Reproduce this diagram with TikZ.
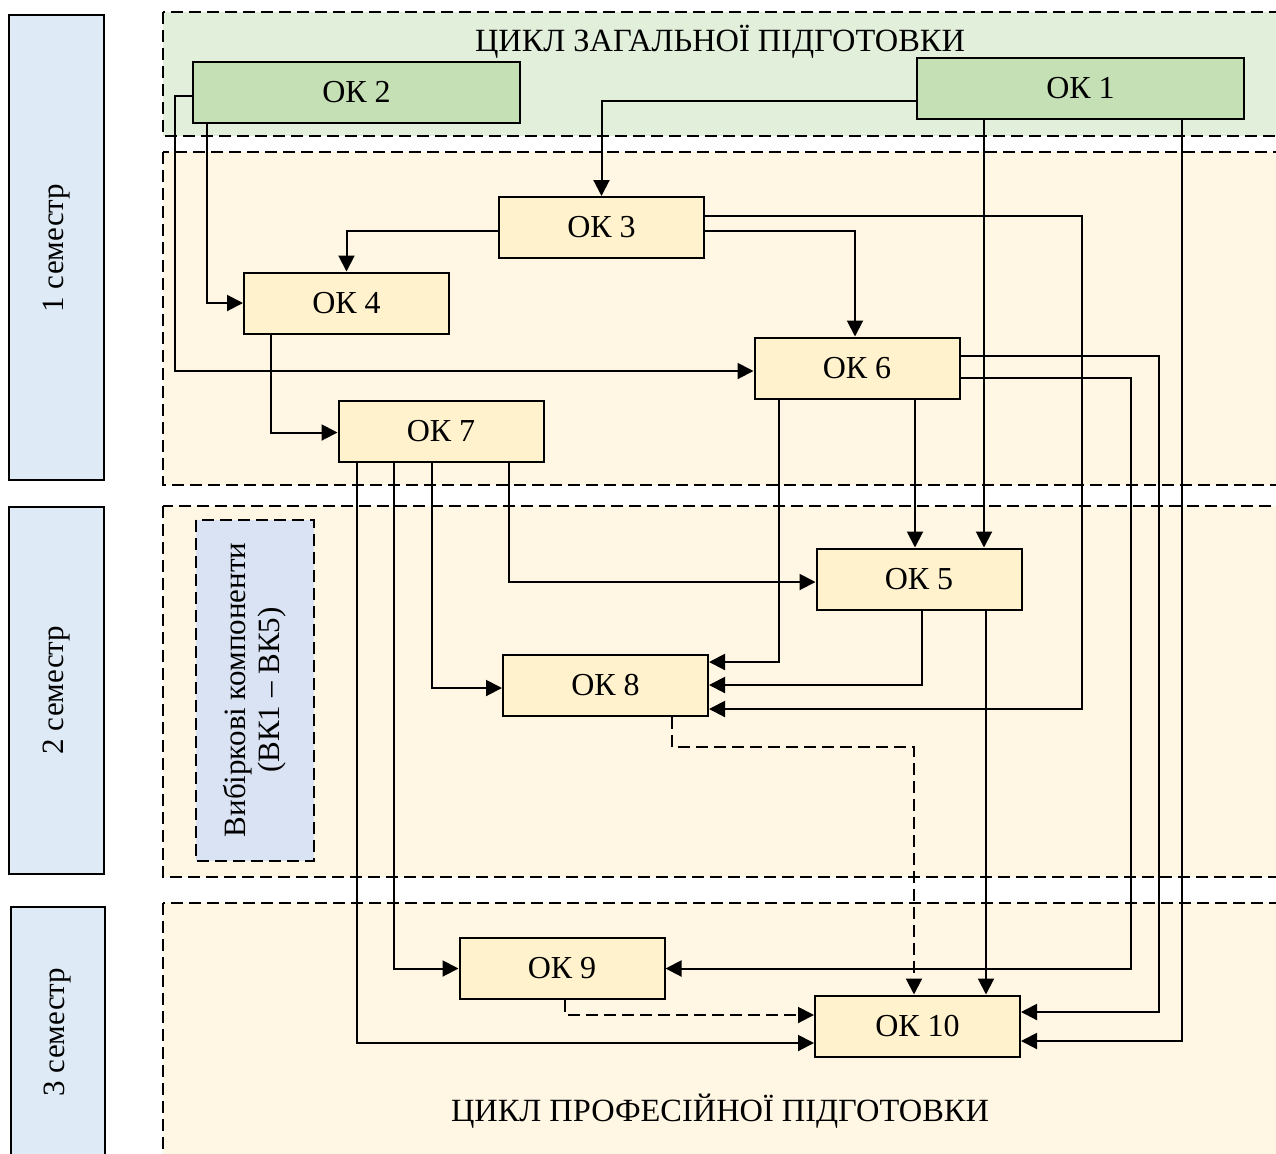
\documentclass[tikz,border=0pt]{standalone}
\usepackage{fontspec}
\setmainfont{Liberation Serif}
\usepackage{xcolor}
\usepackage{tikz}
\usetikzlibrary{positioning,calc,arrows.meta}

\definecolor{zonegreen}{HTML}{E2EFDA}
\definecolor{okgreen}{HTML}{C5E0B4}
\definecolor{zonecream}{HTML}{FFF7E3}
\definecolor{okcream}{HTML}{FFF2CC}
\definecolor{semblue}{HTML}{DEEBF7}
\definecolor{vkblue}{HTML}{DAE3F3}

\begin{document}
\begin{tikzpicture}[x=0.5pt, y=-0.5pt,
    every node/.style={font=\fontsize{15.5}{17}\selectfont},
    ok/.style={rectangle, draw, line width=1pt, fill=okcream, minimum width=102.5pt, minimum height=30.5pt, inner sep=0pt, font=\fontsize{16}{18}\selectfont},
    okwide/.style={ok, fill=okgreen, minimum width=163.5pt},
    title/.style={font=\fontsize{16.2}{18}\selectfont},
    zone/.style={draw, dash pattern=on 6pt off 3pt, line width=0.8pt},
    sembox/.style={draw, line width=1.2pt, fill=semblue},
    arr/.style={-{Triangle[length=8pt,width=8pt]}, line width=1pt},
    darr/.style={arr, dash pattern=on 6pt off 3pt}]
    \useasboundingbox (0,0) rectangle (1276,1153);

    % zones
    \draw[zone, fill=zonegreen] (163,12) rectangle (1300,136);
    \draw[zone, fill=zonecream] (163,152) rectangle (1300,485);
    \draw[zone, fill=zonecream] (163,506) rectangle (1300,877);
    \draw[zone, fill=zonecream] (163,903) rectangle (1300,1180);
    \draw[zone, fill=vkblue] (196,520) rectangle (314,861);

    % semesters
    \draw[sembox] (9,15) rectangle (104,480);
    \draw[sembox] (9,507) rectangle (104,874);
    \draw[sembox] (11,907) rectangle (105,1175);
    \node[rotate=90] (sem1) at (56.5,248) {1 семестр};
    \node[rotate=90] (sem2) at (56.5,690) {2 семестр};
    \node[rotate=90] (sem3) at (58,1032) {3 семестр};

    \node[title] (gen) at (720,42) {ЦИКЛ ЗАГАЛЬНОЇ ПІДГОТОВКИ};
    \node[title] (prof) at (720,1111) {ЦИКЛ ПРОФЕСІЙНОЇ ПІДГОТОВКИ};
    \node[rotate=90, align=center] (vk) at (255,690) {Вибіркові компоненти\\(ВК1 – ВК5)};

    \node[okwide] (ok1) at (1080.5,88.5) {ОК 1};
    \node[okwide] (ok2) at (356.5,92.5) {ОК 2};
    \node[ok] (ok3) at (601.5,227.5) {ОК 3};
    \node[ok] (ok4) at (346.5,303) {ОК 4};
    \node[ok] (ok6) at (857,368) {ОК 6};
    \node[ok] (ok7) at (441,431.5) {ОК 7};
    \node[ok] (ok5) at (919,579) {ОК 5};
    \node[ok] (ok8) at (605.5,685) {ОК 8};
    \node[ok] (ok9) at (562,968.5) {ОК 9};
    \node[ok] (ok10) at (917.5,1026) {ОК 10};

    \draw[arr] ($(ok1.west)+(0,12)$) -| (ok3.north);
    \draw[arr] ($(ok1.south)+(-96.5,0)$) -- ($(ok5.north)+(65,0)$);
    \draw[arr] ($(ok1.south)+(101.5,0)$) |- ($(ok10.east)+(0,15)$);
    \draw[arr] ($(ok2.south west)+(15,0)$) |- (ok4.west);
    \draw[arr] ($(ok2.west)+(0,3)$) -- ++(-17,0) |- ($(ok6.west)+(0,3)$);
    \draw[arr] ($(ok3.west)+(0,3)$) -| (ok4.north);
    \draw[arr] ($(ok3.east)+(0,3)$) -| ($(ok6.north)+(-2,0)$);
    \draw[arr] ($(ok3.east)+(0,-12)$) -- ++(377,0) |- ($(ok8.east)+(0,24)$);
    \draw[arr] ($(ok4.south west)+(28,0)$) |- ($(ok7.west)+(0,1)$);
    \draw[arr] ($(ok6.south west)+(25,0)$) |- ($(ok8.east)+(0,-23)$);
    \draw[arr] ($(ok6.south)+(58,0)$) -- ($(ok5.north)+(-4,0)$);
    \draw[arr] ($(ok6.east)+(0,-12)$) -- ++(198,0) |- ($(ok10.east)+(0,-14)$);
    \draw[arr] ($(ok6.east)+(0,10)$) -- ++(170,0) |- (ok9.east);
    \draw[arr] ($(ok5.south west)+(106,0)$) |- (ok8.east);
    \draw[arr] ($(ok5.south)+(67,0)$) -- ($(ok10.north)+(68.5,0)$);
    \draw[arr] ($(ok7.south east)+(-36,0)$) |- ($(ok5.west)+(0,3)$);
    \draw[arr] ($(ok7.south)+(-9,0)$) |- ($(ok8.west)+(0,3)$);
    \draw[arr] ($(ok7.south)+(-47,0)$) |- (ok9.west);
    \draw[arr] ($(ok7.south west)+(19,0)$) |- ($(ok10.west)+(0,17)$);
    \draw[darr] ($(ok8.south)+(66.5,0)$) -- ++(0,30) -| ($(ok10.north)+(-3.5,0)$);
    \draw[darr] ($(ok9.south)+(3,0)$) |- ($(ok10.west)+(0,-11)$);
\end{tikzpicture}
\end{document}
